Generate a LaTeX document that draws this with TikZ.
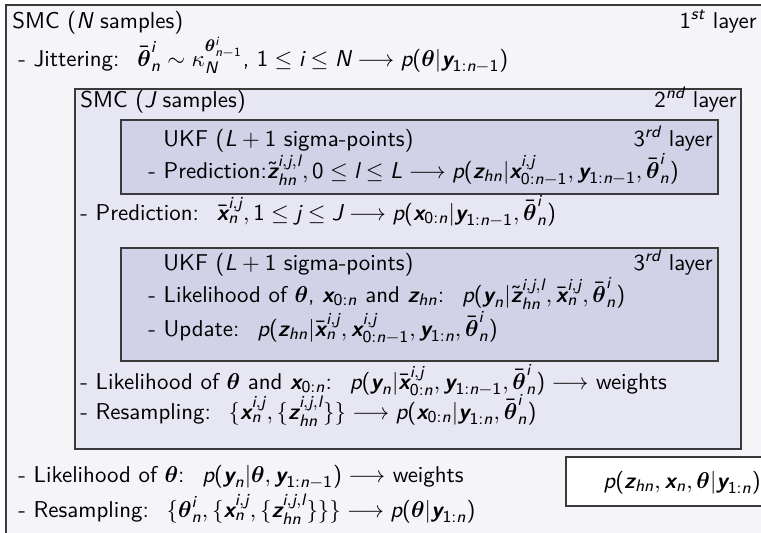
\documentclass[11pt,tikz,border=0pt]{standalone}
\usepackage{amsmath}
\usepackage{tikz}
\usepackage{xcolor}
\usetikzlibrary{positioning}

\renewcommand{\familydefault}{\sfdefault}

% sans-serif math letters and digits, the way beamer sets them
\makeatletter
\DeclareSymbolFont{sfletters}{TU}{lmss}{m}{sl}
\SetSymbolFont{sfletters}{bold}{TU}{lmss}{bx}{sl}
\SetSymbolFont{operators}{normal}{OT1}{cmss}{m}{n}
\SetSymbolFont{operators}{bold}{OT1}{cmss}{bx}{n}
\count@=`a
\loop
  \mathcode\count@=\numexpr"7000+\symsfletters*"100+\count@\relax
  \mathcode\numexpr\count@-32\relax=\numexpr"7000+\symsfletters*"100+\count@-32\relax
  \advance\count@\@ne
\ifnum\count@<`\{\repeat
\makeatother

\definecolor{layerone}{HTML}{F4F4F9}
\definecolor{layertwo}{HTML}{E7E7F3}
\definecolor{layerthree}{HTML}{D1D1E8}
\definecolor{frameline}{HTML}{3A3A3A}

\newcommand{\vth}{\boldsymbol{\theta}}
\newcommand{\vx}{\boldsymbol{x}}
\newcommand{\vy}{\boldsymbol{y}}
\newcommand{\vz}{\boldsymbol{z}}

\tikzset{
  layerbox/.style={draw=frameline, line width=0.5pt},
  txt/.style={inner sep=0pt, anchor=base west},
  tag/.style={inner sep=0pt, anchor=base east}
}

\begin{document}
\begin{tikzpicture}[x=0.4786pt, y=-0.4786pt]
  \useasboundingbox (0,0) rectangle (761,532);
  \clip (0,0) rectangle (761,532);
  \fill[white] (0,0) rectangle (761,532);

  % --- 1st layer ---
  \filldraw[layerbox, fill=layerone] (6,5) rectangle (790,560);
  \node[txt] (smcN) at (12,28) {SMC ($N$ samples)};
  \node[tag] (tag1) at (757,28) {$1^{st}$ layer};
  \node[txt] (jitter) at (18,66) {- Jittering: \ $\bar{\vth}^i_n \sim \kappa_N^{\vth^i_{n-1}}$, $1 \le i \le N \longrightarrow p(\vth|\vy_{1:n-1})$};

  % --- 2nd layer ---
  \filldraw[layerbox, fill=layertwo] (75,89) rectangle (741,449);
  \node[txt] (smcJ) at (80,107) {SMC ($J$ samples)};
  \node[tag] (tag2) at (737,107) {$2^{nd}$ layer};

  % 3rd layer: prediction
  \filldraw[layerbox, fill=layerthree] (121,120) rectangle (718,194);
  \node[txt] (ukfA) at (163,146) {UKF ($L+1$ sigma-points)};
  \node[tag] (tag3a) at (713,146) {$3^{rd}$ layer};
  \node[txt] (predZ) at (148,178) {- Prediction:$\tilde{\vz}^{i,j,l}_{hn}, 0 \le l \le L \longrightarrow p(\vz_{hn}|\vx^{i,j}_{0:n-1}, \vy_{1:n-1}, \bar{\vth}^i_n)$};

  \node[txt] (predX) at (80,220) {- Prediction: \ $\bar{\vx}^{i,j}_n, 1 \le j \le J \longrightarrow p(\vx_{0:n}|\vy_{1:n-1}, \bar{\vth}^i_n)$};

  % 3rd layer: update
  \filldraw[layerbox, fill=layerthree] (121,248) rectangle (718,361);
  \node[txt] (ukfB) at (163,270) {UKF ($L+1$ sigma-points)};
  \node[tag] (tag3b) at (713,270) {$3^{rd}$ layer};
  \node[txt] (likeZ) at (148,302) {- Likelihood of $\vth$, $\vx_{0:n}$ and $\vz_{hn}$: \ $p(\vy_n|\tilde{\vz}^{i,j,l}_{hn}, \bar{\vx}^{i,j}_n, \bar{\vth}^i_n)$};
  \node[txt] (update) at (148,336) {- Update: \ $p(\vz_{hn}|\bar{\vx}^{i,j}_n, \vx^{i,j}_{0:n-1}, \vy_{1:n}, \bar{\vth}^i_n)$};

  \node[txt] (likeX) at (80,389) {- Likelihood of $\vth$ and $\vx_{0:n}$: \ $p(\vy_n|\bar{\vx}^{i,j}_{0:n}, \vy_{1:n-1}, \bar{\vth}^i_n) \longrightarrow$ weights};
  \node[txt] (resampX) at (80,419) {- Resampling: \ $\{\vx^{i,j}_n, \{\vz^{i,j,l}_{hn}\}\} \longrightarrow p(\vx_{0:n}|\vy_{1:n}, \bar{\vth}^i_n)$};

  % --- back in the 1st layer ---
  \node[txt] (likeTh) at (18,482) {- Likelihood of $\vth$: \ $p(\vy_n|\vth, \vy_{1:n-1}) \longrightarrow$ weights};
  \node[txt] (resampTh) at (18,517) {- Resampling: \ $\{\vth^i_n, \{\vx^{i,j}_n, \{\vz^{i,j,l}_{hn}\}\}\} \longrightarrow p(\vth|\vy_{1:n})$};

  % posterior
  \filldraw[layerbox, fill=white] (566,457) rectangle (800,506);
  \node[txt] (post) at (603,488) {$p(\vz_{hn}, \vx_n, \vth|\vy_{1:n})$};
\end{tikzpicture}
\end{document}
